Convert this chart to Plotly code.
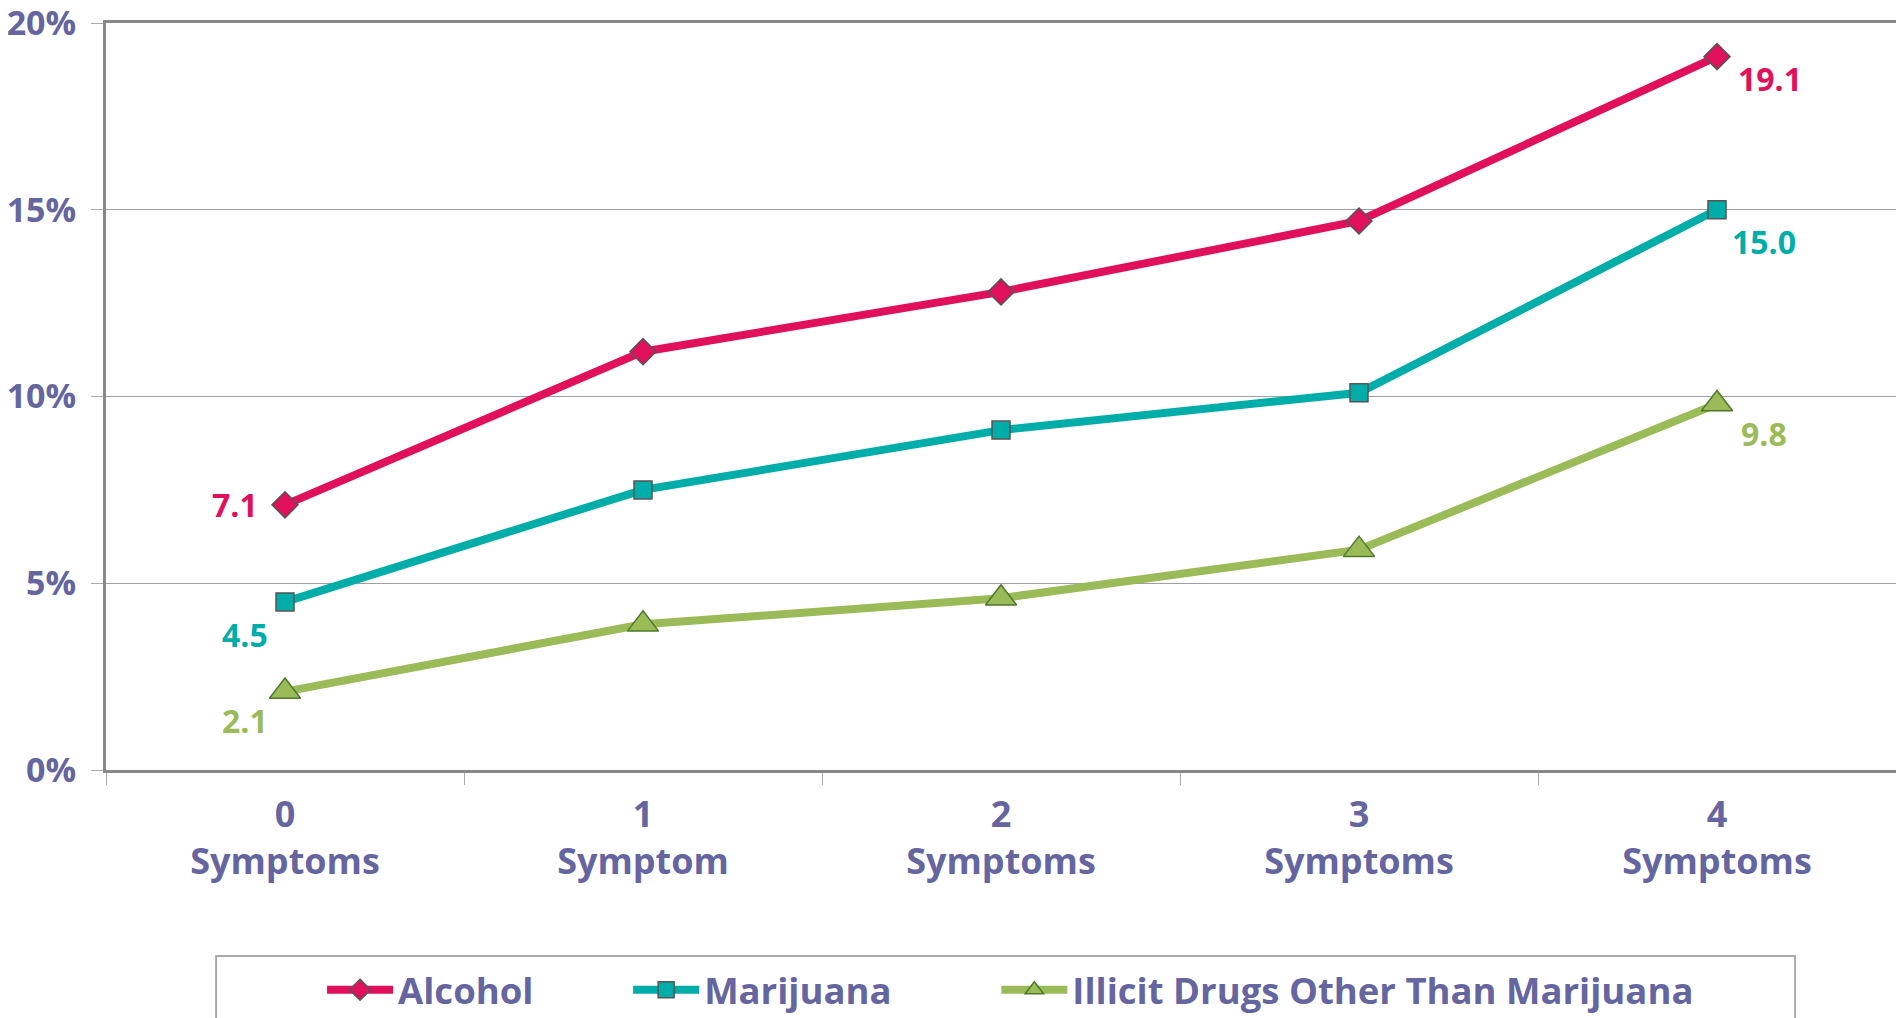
import plotly.graph_objects as go

categories = ["0<br>Symptoms", "1<br>Symptom", "2<br>Symptoms", "3<br>Symptoms", "4<br>Symptoms"]
alcohol = [7.1, 11.2, 12.8, 14.7, 19.1]
marijuana = [4.5, 7.5, 9.1, 10.1, 15.0]
illicit = [2.1, 3.9, 4.6, 5.9, 9.8]
y_ticks = [0, 5, 10, 15, 20]
y_tick_text = ["0%", "5%", "10%", "15%", "20%"]

AXIS_TEXT = "#65659F"
FONT = "'Open Sans', Lato, sans-serif"

series = [
    ("Alcohol", alcohol, "#E1105B", "diamond", 20, "#555555", "legend", 0.1207),
    ("Marijuana", marijuana, "#00ADA8", "square", 18, "#555555", "legend2", 0.2917),
    ("Illicit Drugs Other Than Marijuana", illicit, "#9BBB59", "triangle-up", 27, "#4E7A2A", "legend3", 0.4974),
]

fig = go.Figure()
for name, vals, color, symbol, msize, mline, leg, _ in series:
    fig.add_trace(
        go.Scatter(
            x=categories,
            y=vals,
            name=name,
            legend=leg,
            mode="lines+markers",
            line=dict(color=color, width=8),
            marker=dict(symbol=symbol, size=msize, color=color, line=dict(color=mline, width=1.5)),
        )
    )

# value labels on first and last points only
label_offsets = {
    "Alcohol": [(-50, 0), (53, -22)],
    "Marijuana": [(-40, -33), (47, -32)],
    "Illicit Drugs Other Than Marijuana": [(-40, -29), (47, -30)],
}
for name, vals, color, *_ in series:
    for idx, (dx, dy) in zip([0, len(vals) - 1], label_offsets[name]):
        fig.add_annotation(
            x=categories[idx],
            y=vals[idx],
            text=f"<b>{vals[idx]:.1f}</b>",
            showarrow=False,
            xshift=dx,
            yshift=dy,
            font=dict(family=FONT, size=32, color=color),
        )

# legend frame
fig.add_shape(
    type="rect", xref="paper", yref="paper",
    x0=0.0615, x1=0.9436, y0=-0.249, y1=-0.36,
    line=dict(color="#AAAAAA", width=2), fillcolor="rgba(0,0,0,0)",
)

fig.update_xaxes(
    type="category",
    range=[-0.5, 4.5],
    automargin=False,
    showline=True,
    linecolor="#888888",
    linewidth=3,
    mirror=True,
    showgrid=False,
    tickson="boundaries",
    ticks="outside",
    ticklen=12,
    tickcolor="#AAAAAA",
    tickwidth=1,
    tickfont=dict(family=FONT, size=36, color=AXIS_TEXT, weight="bold"),
    ticklabelstandoff=11,
)
fig.update_yaxes(
    range=[0, 20],
    automargin=False,
    tickmode="array",
    tickvals=y_ticks,
    ticktext=y_tick_text,
    ticklabeloverflow="allow",
    showline=True,
    linecolor="#888888",
    linewidth=3,
    mirror=True,
    showgrid=True,
    gridcolor="#A0A0A0",
    gridwidth=1,
    ticks="outside",
    ticklen=12,
    tickcolor="#AAAAAA",
    tickfont=dict(family=FONT, size=34, color=AXIS_TEXT, weight="bold"),
    ticklabelstandoff=8,
    zeroline=False,
)

legend_style = dict(
    orientation="h",
    xanchor="left",
    y=-0.2945,
    yanchor="middle",
    font=dict(family=FONT, size=36.5, color=AXIS_TEXT, weight="bold"),
    itemwidth=66,
    bgcolor="rgba(0,0,0,0)",
)
fig.update_layout(
    width=1904,
    height=1018,
    paper_bgcolor="white",
    plot_bgcolor="white",
    margin=dict(l=98, r=16, t=15, b=256, autoexpand=False),
    font=dict(family=FONT, color=AXIS_TEXT),
    showlegend=True,
    legend=dict(x=series[0][7], **legend_style),
    legend2=dict(x=series[1][7], **legend_style),
    legend3=dict(x=series[2][7], **legend_style),
)

fig.write_html("out.html")
